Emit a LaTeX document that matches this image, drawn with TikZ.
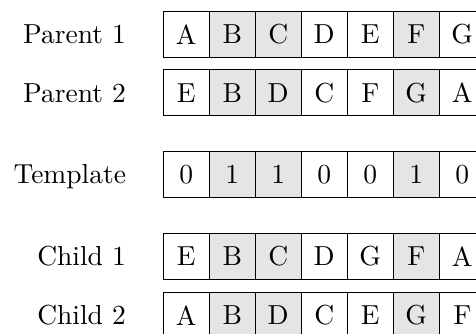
\documentclass[tikz,border=0pt]{standalone}
\begin{document}
\begin{tikzpicture}[x=0.3636pt,y=-0.3636pt,
  cell/.style={draw, line width=0.4pt, minimum width=16.727pt, minimum height=16.727pt, inner sep=0pt, anchor=north west},
  hl/.style={fill=gray!20},
  rowlabel/.style={anchor=base east, inner sep=0pt}]
\useasboundingbox (0,0) rectangle (476,333);
\clip (0,0) rectangle (476,333);
\foreach \nm/\tp/\lab/\a/\b/\c/\d/\e/\f/\g in {
  pa/10.7/Parent 1/A/B/C/D/E/F/G,
  pb/69.3/Parent 2/E/B/D/C/F/G/A,
  tm/150.7/Template/0/1/1/0/0/1/0,
  ca/232.7/Child 1/E/B/C/D/G/F/A,
  cb/292/Child 2/A/B/D/C/E/G/F}{
  \node[rowlabel] (\nm-lab) at (126.5,\tp+32.7) {\lab};
  \node[cell] (\nm-1) at (162.7,\tp) {\a};
  \node[cell,hl] (\nm-2) at (208.7,\tp) {\b};
  \node[cell,hl] (\nm-3) at (254.7,\tp) {\c};
  \node[cell] (\nm-4) at (300.7,\tp) {\d};
  \node[cell] (\nm-5) at (346.7,\tp) {\e};
  \node[cell,hl] (\nm-6) at (392.7,\tp) {\f};
  \node[cell] (\nm-7) at (438.7,\tp) {\g};
}
\end{tikzpicture}
\end{document}
